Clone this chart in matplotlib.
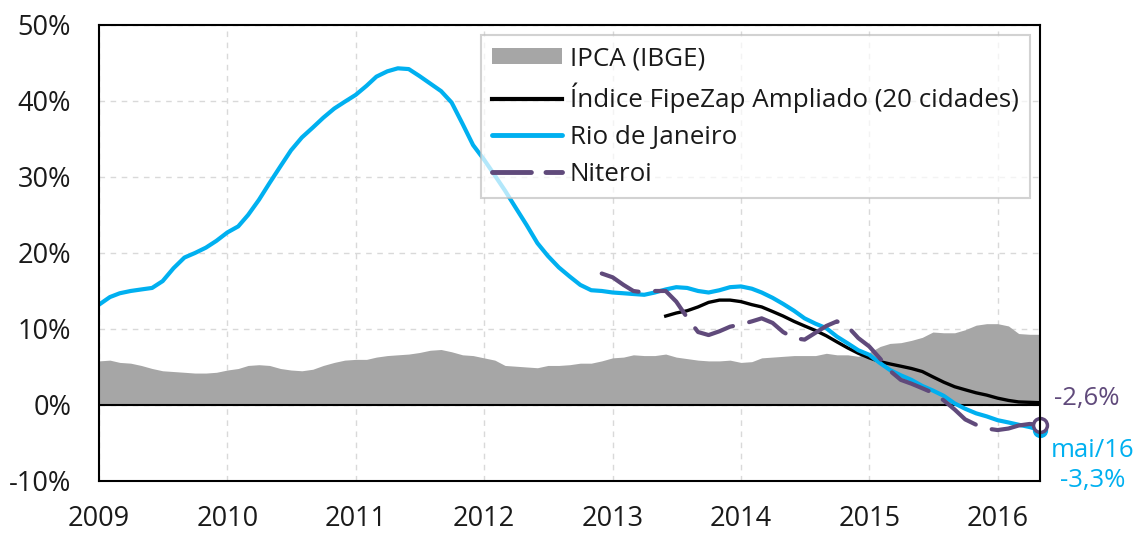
import matplotlib
matplotlib.use("Agg")
import matplotlib.pyplot as plt
import matplotlib.dates as mdates
from matplotlib.patches import Patch
from matplotlib.lines import Line2D
import pandas as pd

plt.rcParams["font.family"] = ["Open Sans", "DejaVu Sans"]

# monthly, jan/2009 .. mai/2016 (12-month change, %)
months = pd.date_range("2009-01-01", periods=89, freq="MS")

ipca = [5.8, 5.9, 5.6, 5.5, 5.2, 4.8, 4.5, 4.4, 4.3, 4.2, 4.2, 4.3,
        4.6, 4.8, 5.2, 5.3, 5.2, 4.8, 4.6, 4.5, 4.7, 5.2, 5.6, 5.9,
        6.0, 6.0, 6.3, 6.5, 6.6, 6.7, 6.9, 7.2, 7.3, 7.0, 6.6, 6.5,
        6.2, 5.9, 5.2, 5.1, 5.0, 4.9, 5.2, 5.2, 5.3, 5.5, 5.5, 5.8,
        6.2, 6.3, 6.6, 6.5, 6.5, 6.7, 6.3, 6.1, 5.9, 5.8, 5.8, 5.9,
        5.6, 5.7, 6.2, 6.3, 6.4, 6.5, 6.5, 6.5, 6.8, 6.6, 6.6, 6.4,
        6.9, 7.7, 8.1, 8.2, 8.5, 8.9, 9.6, 9.5, 9.5, 9.9, 10.5, 10.7,
        10.7, 10.4, 9.4, 9.3, 9.3]

rio = [13.2, 14.2, 14.7, 15.0, 15.2, 15.4, 16.3, 18.0, 19.4, 20.0, 20.7, 21.6,
       22.7, 23.5, 25.0, 27.0, 29.2, 31.4, 33.5, 35.2, 36.5, 37.8, 39.0, 39.9,
       40.8, 42.0, 43.2, 43.9, 44.3, 44.2, 43.3, 42.3, 41.3, 39.8, 37.0, 34.2,
       32.3, 30.2, 28.2, 25.9, 23.7, 21.3, 19.6, 18.1, 16.9, 15.8, 15.1, 15.0,
       14.8, 14.7, 14.6, 14.5, 14.8, 15.2, 15.5, 15.4, 15.0, 14.8, 15.1, 15.5,
       15.6, 15.3, 14.8, 14.1, 13.3, 12.4, 11.4, 10.7, 10.1, 9.0, 8.1, 7.2,
       6.6, 5.5, 4.6, 3.9, 3.3, 2.5, 1.9, 1.2, 0.2, -0.5, -1.1, -1.5,
       -2.0, -2.3, -2.6, -2.9, -3.3]

# FipeZap Ampliado starts jun/2013
fipezap = [11.7, 12.1, 12.4, 12.9, 13.5, 13.8, 13.8,
           13.6, 13.2, 12.9, 12.3, 11.7, 11.0, 10.4, 9.8, 9.1, 8.3, 7.5, 6.8,
           6.2, 5.7, 5.4, 5.1, 4.8, 4.4, 3.7, 3.0, 2.4, 2.0, 1.6, 1.3,
           0.9, 0.6, 0.4, 0.35, 0.3]

# Niteroi starts dez/2012
niteroi = [17.3,
           16.8, 15.8, 15.0, 14.8, 15.0, 15.0, 13.6, 11.5, 9.6, 9.2, 9.7, 10.3,
           10.6, 11.0, 11.4, 10.8, 9.6, 8.8, 8.6, 9.5, 10.4, 11.0, 10.3, 8.8,
           7.7, 6.1, 4.5, 3.3, 2.8, 2.2, 1.6, 0.6, -0.6, -1.9, -2.6, -3.1,
           -3.3, -3.1, -2.7, -2.5, -2.6]

labels = ["IPCA (IBGE)", "Índice FipeZap Ampliado (20 cidades)",
          "Rio de Janeiro", "Niteroi"]

C_IPCA = "#a6a6a6"
C_RIO = "#00b0f0"
C_NIT = "#604a7b"
TXT = "#1a1a1a"

fig = plt.figure(figsize=(11.33, 5.34), dpi=100)
ax = fig.add_axes([0.0874, 0.0993, 0.8306, 0.8539])

ax.fill_between(months, 0, ipca, color=C_IPCA, lw=0, zorder=2)
ax.plot(months[-len(fipezap):], fipezap, color="black", lw=2.4, zorder=4)
ax.plot(months, rio, color=C_RIO, lw=3, zorder=5, solid_capstyle="round")
ax.plot(months[-len(niteroi):], niteroi, color=C_NIT, lw=3,
        dashes=(10, 4), dash_capstyle="round", zorder=6)

# end markers
ax.plot(months[-1:], rio[-1:], "o", ms=10, color=C_RIO, zorder=7, clip_on=False)
ax.plot(months[-1:], niteroi[-1:], "o", ms=10, mfc="white", mec=C_NIT,
        mew=2.5, zorder=8, clip_on=False)

ax.axhline(0, color="black", lw=1.5, zorder=3)

ax.set_ylim(-10, 50)
ax.set_yticks(range(-10, 51, 10))
ax.set_yticklabels([f"{v}%" for v in range(-10, 51, 10)])
ax.set_xlim(months[0], months[-1])
ax.xaxis.set_major_locator(mdates.YearLocator())
ax.xaxis.set_major_formatter(mdates.DateFormatter("%Y"))

ax.grid(True, color="#d9d9d9", lw=1, ls=(0, (4, 4)), zorder=0)
ax.tick_params(length=0, labelsize=19.5, colors=TXT)
ax.tick_params(axis="x", pad=17)
ax.tick_params(axis="y", pad=20)
for s in ax.spines.values():
    s.set_linewidth(1.5)
    s.set_color("black")
    s.set_zorder(9)

handles = [
    Patch(facecolor=C_IPCA, edgecolor="none"),
    Line2D([], [], color="black", lw=3),
    Line2D([], [], color=C_RIO, lw=3.5, solid_capstyle="round"),
    Line2D([], [], color=C_NIT, lw=3.5, dashes=(8, 3), dash_capstyle="round"),
]
leg = ax.legend(handles, labels, loc="upper right", fontsize=18.7,
                frameon=True, fancybox=False, framealpha=0.7,
                edgecolor="#bfbfbf", handlelength=2.7, handleheight=0.6,
                handletextpad=0.3, labelspacing=0.45, borderpad=0.42,
                borderaxespad=0.4)
leg.get_frame().set_linewidth(1.5)
leg.set_zorder(10)
for t in leg.get_texts():
    t.set_color(TXT)

ax.annotate("-2,6%", xy=(1, 0), xycoords=("axes fraction", "data"),
            xytext=(10, 5), textcoords="offset points",
            ha="left", va="center", fontsize=18.5, color=C_NIT)
ax.annotate("mai/16\n-3,3%", xy=(1, -3.3), xycoords=("axes fraction", "data"),
            xytext=(38, -25.5), textcoords="offset points",
            ha="center", va="center", fontsize=18.5, color=C_RIO,
            linespacing=1.3)

fig.savefig("out.png", dpi=100)
